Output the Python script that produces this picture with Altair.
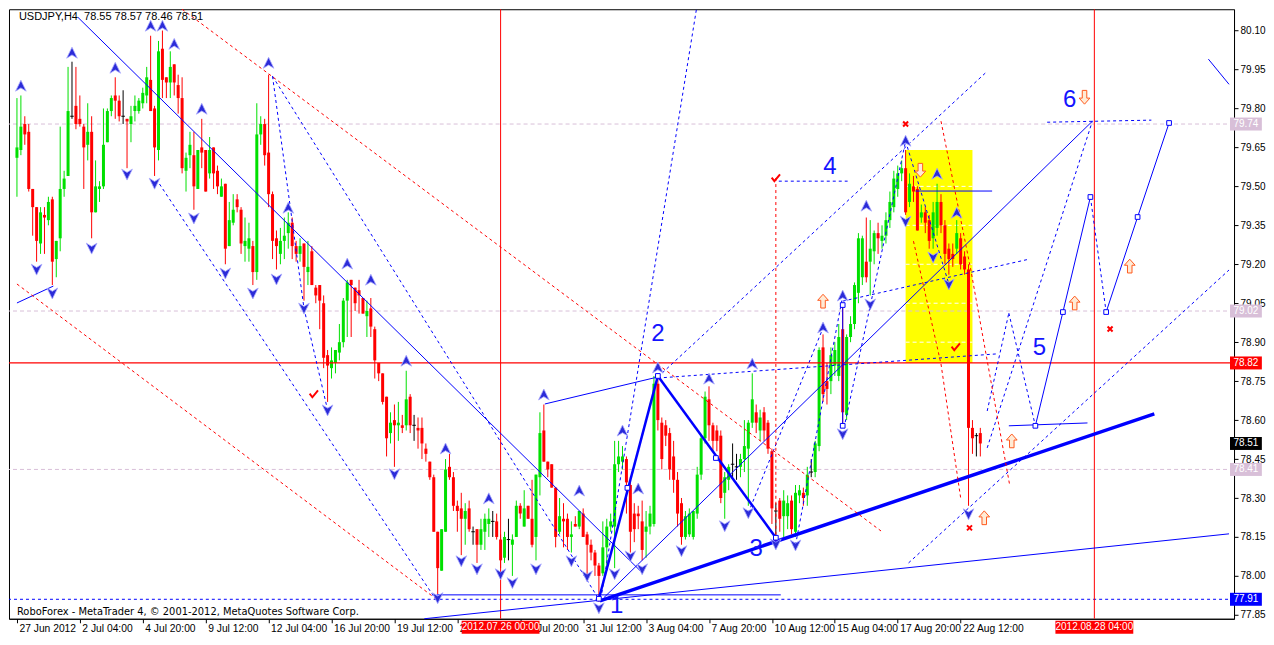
import json
import altair as alt
import pandas as pd

# ---------------- candle data (USDJPY H4) ----------------
opens = [
79.61,79.64,79.74,79.71,79.49,79.42,79.28,79.39,79.37,79.45,
79.22,79.30,79.49,79.54,79.77,79.81,79.76,79.73,79.66,79.71,
79.40,79.49,79.50,79.67,79.79,79.85,79.83,79.77,79.76,79.74,
79.79,79.79,79.82,79.85,79.91,79.80,79.64,80.03,79.92,79.90,
79.97,79.89,79.84,79.56,79.62,79.62,79.49,79.65,79.64,79.55,
79.65,79.56,79.46,79.51,79.27,79.36,79.45,79.41,79.27,79.26,
79.27,79.17,79.70,79.74,79.63,79.47,79.30,79.24,79.29,79.32,
79.36,79.27,79.24,79.28,79.17,79.25,79.11,79.12,79.05,78.85,
78.80,78.82,78.86,78.90,79.06,79.14,79.11,79.10,79.07,79.00,
79.03,78.95,78.82,78.78,78.69,78.55,78.60,78.58,78.58,78.58,
78.69,78.58,78.57,78.57,78.49,78.44,78.38,78.17,78.02,78.17,
78.42,78.38,78.27,78.26,78.22,78.26,78.17,78.18,78.12,78.17,
78.20,78.21,78.21,78.14,78.07,78.14,78.12,78.15,78.27,78.19,
78.27,78.22,78.15,78.38,78.56,78.44,78.43,78.34,78.17,78.22,
78.22,78.15,78.20,78.19,78.24,78.16,78.12,78.09,78.04,78.01,
78.11,78.19,78.19,78.43,78.44,78.45,78.35,78.24,78.24,78.21,
78.17,78.19,78.20,78.74,78.59,78.58,78.55,78.46,78.37,78.28,
78.15,78.16,78.15,78.24,78.39,78.53,78.68,78.58,78.56,78.54,
78.32,78.37,78.43,78.42,78.42,78.45,78.49,78.59,78.63,78.56,
78.63,78.59,78.48,78.25,78.29,78.23,78.23,78.29,78.17,78.31,
78.32,78.31,78.40,78.40,78.50,78.88,78.75,78.75,78.81,78.77,
78.95,78.62,78.92,78.97,79.09,79.15,79.21,79.21,79.25,79.32,
79.29,79.31,79.37,79.42,79.49,79.55,79.57,79.44,79.50,79.49,
79.38,79.40,79.37,79.30,79.34,79.44,79.35,79.26,79.24,79.26,
79.30,79.23,79.18,78.57,78.54,78.55]
highs = [
79.84,79.85,79.77,79.74,79.49,79.42,79.42,79.42,79.46,79.46,
79.29,79.73,79.56,79.96,79.98,79.96,79.85,79.74,79.82,79.77,
79.60,79.52,79.80,79.80,79.85,79.92,79.85,79.87,79.76,79.81,
79.85,79.84,79.88,79.96,80.08,79.81,80.06,80.10,79.92,80.02,
79.97,79.93,79.92,79.63,79.71,79.71,79.64,79.76,79.64,79.69,
79.65,79.58,79.53,79.51,79.44,79.47,79.47,79.42,79.38,79.36,
79.29,79.82,79.77,79.76,79.93,79.48,79.33,79.34,79.38,79.40,
79.38,79.29,79.30,79.28,79.29,79.27,79.12,79.12,79.08,78.87,
78.88,78.87,78.97,79.07,79.14,79.14,79.11,79.14,79.07,79.06,
79.07,78.96,78.82,78.78,78.69,78.63,78.66,78.67,78.62,78.79,
78.70,78.62,78.61,78.61,78.51,78.44,78.39,78.17,78.18,78.45,
78.47,78.40,78.29,78.32,78.28,78.29,78.19,78.18,78.22,78.24,
78.26,78.25,78.24,78.16,78.17,78.22,78.16,78.29,78.28,78.33,
78.27,78.37,78.39,78.63,78.66,78.44,78.43,78.34,78.30,78.28,
78.24,78.21,78.23,78.25,78.26,78.17,78.14,78.10,78.05,78.21,
78.22,78.24,78.52,78.52,78.50,78.46,78.38,78.28,78.27,78.29,
78.25,78.27,78.77,78.76,78.61,78.60,78.57,78.52,78.40,78.30,
78.25,78.26,78.25,78.42,78.54,78.71,78.73,78.59,78.58,78.56,
78.40,78.43,78.51,78.47,78.47,78.60,78.60,78.78,78.66,78.64,
78.65,78.60,78.49,78.28,78.30,78.33,78.31,78.31,78.35,78.35,
78.34,78.42,78.45,78.52,78.88,78.93,78.82,78.88,78.90,78.97,
79.04,78.93,79.00,79.13,79.32,79.31,79.38,79.37,79.33,79.36,
79.35,79.40,79.48,79.56,79.58,79.60,79.64,79.55,79.54,79.50,
79.43,79.42,79.39,79.44,79.51,79.47,79.37,79.28,79.28,79.37,
79.32,79.25,79.20,78.60,78.55,78.57]
lows = [
79.46,79.62,79.66,79.48,79.31,79.21,79.24,79.24,79.35,79.12,
79.15,79.25,79.46,79.54,79.76,79.72,79.73,79.49,79.60,79.30,
79.40,79.44,79.49,79.67,79.77,79.76,79.75,79.74,79.57,79.67,
79.75,79.78,79.80,79.82,79.79,79.54,79.60,79.84,79.84,79.84,
79.85,79.78,79.55,79.48,79.57,79.41,79.49,79.57,79.48,79.53,
79.49,79.47,79.46,79.20,79.27,79.35,79.40,79.24,79.21,79.21,
79.12,79.14,79.66,79.58,79.42,79.22,79.18,79.20,79.22,79.26,
79.22,79.21,79.21,79.06,79.12,79.12,79.05,78.95,78.80,78.67,
78.76,78.78,78.83,78.88,78.92,78.92,79.02,79.01,79.01,78.92,
78.92,78.76,78.75,78.66,78.46,78.51,78.42,78.52,78.55,78.56,
78.55,78.52,78.49,78.45,78.44,78.37,78.17,77.93,78.02,78.17,
78.37,78.25,78.17,78.08,78.12,78.17,78.12,78.05,78.10,78.10,
78.15,78.15,78.14,78.03,78.05,78.06,78.00,78.15,78.22,78.19,
78.22,78.11,78.06,78.31,78.44,78.38,78.34,78.11,78.16,78.11,
78.10,78.09,78.19,78.18,78.15,77.99,78.06,78.00,77.90,78.00,
78.02,78.17,78.03,78.40,78.41,78.24,78.09,78.13,78.18,78.06,
78.07,78.16,78.19,78.56,78.41,78.50,78.37,78.32,78.19,78.12,
78.14,78.15,78.14,78.22,78.37,78.51,78.52,78.48,78.48,78.28,
78.22,78.33,78.38,78.37,78.38,78.40,78.27,78.57,78.55,78.52,
78.52,78.47,78.20,78.14,78.17,78.15,78.18,78.16,78.15,78.28,
78.27,78.27,78.38,78.38,78.48,78.67,78.66,78.70,78.77,78.75,
78.58,78.60,78.90,78.95,79.05,79.12,79.13,79.08,79.20,79.24,
79.26,79.28,79.34,79.40,79.46,79.52,79.39,79.42,79.44,79.33,
79.36,79.32,79.26,79.26,79.31,79.32,79.20,79.16,79.19,79.24,
79.18,79.16,78.27,78.47,78.46,78.46]
closes = [
79.65,79.73,79.70,79.49,79.42,79.29,79.40,79.38,79.44,79.21,
79.29,79.49,79.53,79.79,79.77,79.74,79.74,79.65,79.71,79.40,
79.50,79.50,79.66,79.79,79.84,79.83,79.77,79.77,79.75,79.77,
79.81,79.83,79.86,79.92,79.79,79.65,80.02,79.91,79.90,79.96,
79.90,79.84,79.57,79.61,79.66,79.50,79.64,79.63,79.48,79.64,
79.55,79.50,79.50,79.26,79.37,79.41,79.42,79.28,79.29,79.30,
79.17,79.70,79.74,79.62,79.47,79.29,79.27,79.29,79.31,79.36,
79.27,79.24,79.27,79.19,79.19,79.12,79.08,79.06,78.84,78.81,
78.83,78.87,78.90,79.06,79.13,79.12,79.05,79.08,79.01,79.02,
78.96,78.83,78.78,78.67,78.53,78.59,78.58,78.59,78.57,78.68,
78.58,78.58,78.56,78.51,78.47,78.38,78.17,78.03,78.18,78.41,
78.38,78.27,78.25,78.22,78.25,78.18,78.17,78.12,78.18,78.22,
78.22,78.21,78.15,78.06,78.15,78.14,78.14,78.27,78.24,78.26,
78.22,78.12,78.39,78.55,78.44,78.41,78.34,78.15,78.23,78.21,
78.15,78.16,78.19,78.25,78.15,78.12,78.09,78.04,78.00,78.11,
78.19,78.21,78.43,78.46,78.46,78.36,78.17,78.18,78.23,78.10,
78.19,78.24,78.74,78.60,78.45,78.54,78.41,78.37,78.24,78.15,
78.23,78.24,78.25,78.39,78.53,78.69,78.58,78.52,78.52,78.30,
78.38,78.42,78.43,78.42,78.45,78.50,78.59,78.68,78.59,78.61,
78.56,78.49,78.26,78.25,78.22,78.29,78.28,78.18,78.32,78.33,
78.30,78.39,78.40,78.51,78.87,78.70,78.72,78.85,78.87,78.92,
78.63,78.92,78.97,79.12,79.30,79.30,79.15,79.26,79.32,79.30,
79.31,79.37,79.44,79.53,79.55,79.57,79.40,79.51,79.48,79.33,
79.40,79.36,79.29,79.40,79.44,79.35,79.24,79.22,79.22,79.32,
79.20,79.18,78.57,78.53,78.54,78.51]

# ---------------- axes ----------------
date_idx = [0, 16, 32, 48, 64, 80, 96, 112, 128, 144, 160, 176, 192, 208, 224, 240]
date_lbl = ["27 Jun 2012", "2 Jul 04:00", "4 Jul 20:00", "9 Jul 12:00", "12 Jul 04:00",
            "16 Jul 20:00", "19 Jul 12:00", "24 Jul 04:00", "26 Jul 20:00", "31 Jul 12:00",
            "3 Aug 04:00", "7 Aug 20:00", "10 Aug 12:00", "15 Aug 04:00", "17 Aug 20:00",
            "22 Aug 12:00"]
price_ticks = [77.85, 78.00, 78.15, 78.30, 78.45, 78.60, 78.75, 78.90,
               79.05, 79.20, 79.35, 79.50, 79.65, 79.80, 79.95, 80.10]

# ---------------- fractals ----------------
frac_up_i = [1, 14, 25, 34, 37, 40, 47, 64, 69, 84, 90, 99, 109, 120, 134, 143, 154, 158,
             163, 176, 187, 205, 210, 216, 226, 234, 239]
frac_up_p = [79.886, 80.013, 79.955, 80.117, 80.117, 80.047, 79.797, 79.974, 79.416, 79.201,
             79.139, 78.827, 78.489, 78.297, 78.697, 78.327, 78.558, 78.335, 78.801, 78.758,
             78.816, 78.955, 79.078, 79.424, 79.674, 79.547, 79.397]
frac_dn_i = [5, 9, 19, 28, 35, 45, 53, 60, 66, 73, 79, 96, 107, 113, 117, 123, 126, 132, 141,
             145, 148, 152, 156, 159, 169, 180, 186, 193, 198, 210, 217, 226, 233, 237, 242]
frac_dn_p = [79.181, 79.089, 79.262, 79.547, 79.512, 79.378, 79.166, 79.089, 79.143, 79.031,
             78.639, 78.393, 77.916, 78.058, 78.027, 78.008, 77.974, 78.027, 78.058, 78.000,
             77.877, 78.008, 78.077, 78.027, 78.097, 78.193, 78.243, 78.123, 78.119, 78.547,
             79.047, 79.366, 79.228, 79.124, 78.239]

# ---------------- drawn objects ----------------
seg_x1 = [15.5, 0, 149.25, 103.6, 106.75, 134.25, 228.5, 210, 252.25, 259, 266, 277, 285, 303,
          148, 163,
          148.25,
          36.25, 65, 65, 73, 148.75, 163, 163, 210, 193.75, 273, 262, 226.75, 246.75, 246.75,
          252.25, 186, 198, 210, 226,
          42, 0, 193, 235, 242.5, 228, 235]
seg_y1 = [80.151, 79.051, 77.916, 77.835, 77.927, 78.662, 79.482, 79.043, 78.578, 78.578,
          79.016, 79.016, 79.382, 79.990,
          77.912, 78.770,
          77.904,
          79.509, 79.924, 79.924, 79.03, 77.935, 78.766, 78.762, 79.058, 79.520, 79.459,
          79.747, 78.050, 78.493, 78.635, 79.012, 78.243, 78.119, 78.547, 79.674,
          80.182, 79.124, 79.532, 79.751, 79.185, 79.289, 78.816]
seg_x2 = [158.5, 9.25, 273.5, 308.25, 194.25, 163, 248, 210, 272.25, 266, 273, 285, 293, 308.25,
          163, 193,
          289.25,
          106.75, 148.25, 73, 79, 172.78, 246.25, 249.25, 257.5, 211.25, 277, 288.5, 308.25,
          273.5, 252.25, 259, 205, 210, 226, 237,
          219.75, 107.25, 193, 242.5, 252.5, 235, 240]
seg_y2 = [78.020, 79.116, 79.751, 78.162, 77.927, 78.766, 79.482, 78.578, 78.589, 79.016,
          79.459, 79.382, 79.744, 79.893,
          78.770, 78.147,
          78.624,
          77.904, 77.904, 79.03, 78.639, 80.18, 79.936, 78.855, 79.220, 79.520, 79.016,
          79.755, 79.178, 79.751, 79.012, 78.578, 78.955, 79.078, 79.674, 79.124,
          78.173, 77.904, 78.135, 79.185, 78.347, 78.816, 78.300]
seg_style = (["thin"] * 14 + ["mid"] * 2 + ["thick"] +
             ["bdash"] * 19 + ["rdash"] * 7)

node_i = [148, 155.25, 163, 177.75, 193, 210, 210, 259, 266, 273, 277, 285, 293]
node_p = [77.912, 78.339, 78.770, 78.454, 78.147, 79.043, 78.578, 78.578, 79.016, 79.459,
          79.016, 79.382, 79.744]

rect_i = [226, 243]
rect_p = [78.82, 79.64]
rect_grid_p = [79.50, 79.35, 79.20, 79.05, 78.90]

level_p = [79.74, 79.02, 78.41]
red_level_p = [78.82]
blue_level_p = [77.91]
vline_i = [123, 274]

wave_lbl = ["1", "2", "3", "4", "5", "6"]
wave_i = [152.5, 163, 188, 206.75, 260, 267.75]
wave_p = [77.885, 78.932, 78.104, 79.574, 78.878, 79.832]

check_i = [75.5, 193, 238.75]
check_p = [78.70, 79.532, 78.881]
cross_i = [226, 278, 242.25]
cross_p = [79.740, 78.951, 78.185]
harrow_up_i = [205, 253, 246, 269, 283]
harrow_up_p = [79.058, 78.520, 78.224, 79.051, 79.193]
harrow_dn_i = [229.75, 271.5]
harrow_dn_p = [79.562, 79.843]

box_vals = [79.74, 79.02, 78.82, 78.51, 78.41, 77.91]
box_cols = ["#D8BFD8", "#D8BFD8", "#FF0000", "#000000", "#D8BFD8", "#0000FF"]
tbox_i = [123, 274]
tbox_lbl = ["2012.07.26 00:00", "2012.08.28 04:00"]

header = "USDJPY,H4\u00a0\u00a078.55 78.57 78.46 78.51"
footer = "RoboForex - MetaTrader 4, \u00a9 2001-2012, MetaQuotes Software Corp."

# ---------------- scales / encodings ----------------
X_MIN, X_MAX = -0.75, 308.25
Y_MIN, Y_MAX = 77.835, 80.182
FONT = "Liberation Sans"
BLUE = "#0000FF"
RED = "#FF0000"
GREEN = "#00E000"

xs = alt.Scale(domain=[X_MIN, X_MAX], nice=False, zero=False)
ys = alt.Scale(domain=[Y_MIN, Y_MAX], nice=False, zero=False)
x_expr = f"{json.dumps(date_lbl)}[indexof({json.dumps(date_idx)}, datum.value)]"
x_axis = alt.Axis(values=date_idx, labelExpr=x_expr, title=None, grid=False, tickSize=4,
                  tickColor="black", domainColor="black", labelAlign="left",
                  labelBaseline="top", labelPadding=1, labelOffset=2, labelFont=FONT,
                  labelFontSize=10.3, labelColor="black", labelOverlap=False,
                  labelFlush=False, labelBound=False)
y_axis = alt.Axis(orient="right", values=price_ticks, format=".2f", title=None, grid=False,
                  tickSize=4, tickColor="black", domainColor="black", labelPadding=2,
                  labelFont=FONT, labelFontSize=10, labelColor="black",
                  labelOverlap=False, labelFlush=False, labelBound=False)


def X(f):
    return alt.X(f, type="quantitative", scale=xs, axis=x_axis)


def Y(f):
    return alt.Y(f, type="quantitative", scale=ys, axis=y_axis)


# ---------------- data frames ----------------
n = len(opens)
cdf = pd.DataFrame({"i": list(range(n)), "o": opens, "h": highs, "l": lows, "c": closes})
cdf["dir"] = ["up" if c > o else ("down" if c < o else "flat") for o, c in zip(opens, closes)]
cdf["il"] = cdf["i"] - 0.45
cdf["ir"] = cdf["i"] + 0.45

sdf = pd.DataFrame({"x1": seg_x1, "y1": seg_y1, "x2": seg_x2, "y2": seg_y2, "st": seg_style})

rdf = pd.DataFrame({"x1": [rect_i[0]], "x2": [rect_i[1]], "y1": [rect_p[0]], "y2": [rect_p[1]]})
rgdf = pd.DataFrame({"x1": [rect_i[0]] * len(rect_grid_p), "x2": [rect_i[1]] * len(rect_grid_p),
                     "p": rect_grid_p})

bdf = pd.DataFrame({"v": box_vals, "col": box_cols})
bdf["x1"] = X_MAX + 0.25
bdf["x2"] = X_MAX + 8.35
bdf["xc"] = X_MAX + 4.3
bdf["y1"] = bdf["v"] - 0.025
bdf["y2"] = bdf["v"] + 0.025
bdf["txt"] = [f"{v:.2f}" for v in box_vals]

tdf = pd.DataFrame({"i": tbox_i, "lbl": tbox_lbl})
tdf["x1"] = tdf["i"] - 9.9
tdf["x2"] = tdf["i"] + 9.9
tdf["y1"] = Y_MIN - 0.008
tdf["y2"] = Y_MIN - 0.058
tdf["yc"] = Y_MIN - 0.033

col = alt.Color("dir:N", scale=alt.Scale(domain=["up", "down", "flat"],
                                         range=[GREEN, RED, "#000000"]), legend=None)

UP_PATH = "M0,-1L0.9,0.85L0,0.3L-0.9,0.85Z"
DN_PATH = "M0,1L0.9,-0.85L0,-0.3L-0.9,-0.85Z"
HUP_PATH = "M0,-1L0.78,-0.12L0.33,-0.12L0.33,1L-0.33,1L-0.33,-0.12L-0.78,-0.12Z"
HDN_PATH = "M0,1L0.78,0.12L0.33,0.12L0.33,-1L-0.33,-1L-0.33,0.12L-0.78,0.12Z"
CHECK_PATH = "M-1,-0.1L-0.35,0.75L1,-0.9"
CROSS_PATH = "M-1,-1L1,1M1,-1L-1,1"

layers = []
# yellow rectangle and its grid dashes
layers.append(alt.Chart(rdf).mark_rect(color="#FFFF00").encode(
    x=X("x1"), x2="x2", y=Y("y1"), y2="y2"))
layers.append(alt.Chart(rgdf).mark_rule(color="white", strokeDash=[4, 3]).encode(
    x=X("x1"), x2="x2", y=Y("p")))
# horizontal & vertical levels
layers.append(alt.Chart(pd.DataFrame({"p": level_p})).mark_rule(
    color="#D8BFD8", stroke="#D8BFD8", strokeDash=[4, 3]).encode(y=Y("p")))
layers.append(alt.Chart(pd.DataFrame({"p": blue_level_p})).mark_rule(
    color=BLUE, stroke=BLUE, strokeDash=[3, 3]).encode(y=Y("p")))
# candles
layers.append(alt.Chart(cdf).mark_rule(strokeWidth=1).encode(x=X("i"), y=Y("l"), y2="h",
                                                             color=col))
layers.append(alt.Chart(cdf).transform_filter("datum.dir != 'flat'").mark_bar(size=3).encode(
    x=X("i"), y=Y("o"), y2="c", color=col))
layers.append(alt.Chart(cdf).transform_filter("datum.dir == 'flat'").mark_rule(
    color="black").encode(x=X("il"), x2="ir", y=Y("o")))
# red level line and vertical time lines (drawn above candles, as in the terminal)
layers.append(alt.Chart(pd.DataFrame({"p": red_level_p})).mark_rule(
    color=RED, stroke=RED, strokeWidth=1.2, opacity=1).encode(y=Y("p")))
layers.append(alt.Chart(pd.DataFrame({"i": vline_i})).mark_rule(
    color=RED, stroke=RED, strokeWidth=1).encode(x=X("i")))
# drawn lines
styles = {
    "thin": dict(color=BLUE, strokeWidth=1),
    "mid": dict(color=BLUE, strokeWidth=2.5),
    "thick": dict(color=BLUE, strokeWidth=3.5),
    "bdash": dict(color=BLUE, strokeWidth=1, strokeDash=[3, 3]),
    "rdash": dict(color=RED, strokeWidth=1, strokeDash=[3, 3]),
}
for key, kw in styles.items():
    layers.append(alt.Chart(sdf).transform_filter(f"datum.st == '{key}'").mark_rule(**kw).encode(
        x=X("x1"), y=Y("y1"), x2="x2", y2="y2"))
# nodes
layers.append(alt.Chart(pd.DataFrame({"i": node_i, "p": node_p})).mark_point(
    shape="square", filled=True, fill="white", stroke=BLUE, strokeWidth=1, size=22,
    opacity=1).encode(x=X("i"), y=Y("p")))
# fractals
layers.append(alt.Chart(pd.DataFrame({"i": frac_up_i, "p": frac_up_p})).mark_point(
    shape=UP_PATH, filled=True, fill="#2b2bd8", stroke="#a9a9ff", strokeWidth=0.8, size=140,
    opacity=1).encode(x=X("i"), y=Y("p")))
layers.append(alt.Chart(pd.DataFrame({"i": frac_dn_i, "p": frac_dn_p})).mark_point(
    shape=DN_PATH, filled=True, fill="#2b2bd8", stroke="#a9a9ff", strokeWidth=0.8, size=140,
    opacity=1).encode(x=X("i"), y=Y("p")))
# hollow arrows, checks, crosses
layers.append(alt.Chart(pd.DataFrame({"i": harrow_up_i, "p": harrow_up_p})).mark_point(
    shape=HUP_PATH, filled=True, fill="#FFEBD6", stroke="#FF5A1E", strokeWidth=1, size=190,
    opacity=1).encode(x=X("i"), y=Y("p")))
layers.append(alt.Chart(pd.DataFrame({"i": harrow_dn_i, "p": harrow_dn_p})).mark_point(
    shape=HDN_PATH, filled=True, fill="#FFEBD6", stroke="#FF5A1E", strokeWidth=1, size=190,
    opacity=1).encode(x=X("i"), y=Y("p")))
layers.append(alt.Chart(pd.DataFrame({"i": check_i, "p": check_p})).mark_point(
    shape=CHECK_PATH, filled=False, stroke=RED, strokeWidth=2, size=70, opacity=1).encode(
    x=X("i"), y=Y("p")))
layers.append(alt.Chart(pd.DataFrame({"i": cross_i, "p": cross_p})).mark_point(
    shape=CROSS_PATH, filled=False, stroke=RED, strokeWidth=2, size=25, opacity=1).encode(
    x=X("i"), y=Y("p")))
# wave labels
layers.append(alt.Chart(pd.DataFrame({"i": wave_i, "p": wave_p, "t": wave_lbl})).mark_text(
    font=FONT, fontSize=24, color="#1414FF", align="center", baseline="middle").encode(
    x=X("i"), y=Y("p"), text="t:N"))
# header / footer
layers.append(alt.Chart(pd.DataFrame({"i": [0.5], "p": [80.176], "t": [header]})).mark_text(
    font=FONT, fontSize=11, color="black", align="left", baseline="top").encode(
    x=X("i"), y=Y("p"), text="t:N"))
layers.append(alt.Chart(pd.DataFrame({"i": [0.0], "p": [77.843], "t": [footer]})).mark_text(
    font="DejaVu Sans", fontSize=9.9, color="black", align="left", baseline="bottom").encode(
    x=X("i"), y=Y("p"), text="t:N"))
# price boxes on the right axis
layers.append(alt.Chart(bdf).mark_rect().encode(
    x=X("x1"), x2="x2", y=Y("y1"), y2="y2", color=alt.Color("col:N", scale=None)))
layers.append(alt.Chart(bdf).mark_text(font=FONT, fontSize=10, color="white", align="center",
                                       baseline="middle").encode(
    x=X("xc"), y=Y("v"), text="txt:N"))
# time boxes on the time axis
layers.append(alt.Chart(tdf).mark_rect(color=RED).encode(x=X("x1"), x2="x2", y=Y("y1"),
                                                          y2="y2"))
layers.append(alt.Chart(tdf).mark_text(font=FONT, fontSize=10, color="white", align="center",
                                       baseline="middle").encode(
    x=X("i"), y=Y("yc"), text="lbl:N"))

chart = alt.layer(*layers).properties(
    width=1226, height=610, padding=0, background="white"
).configure_view(stroke="black", strokeWidth=1)

chart.save("out.html", embed_options={"renderer": "svg", "actions": False})
